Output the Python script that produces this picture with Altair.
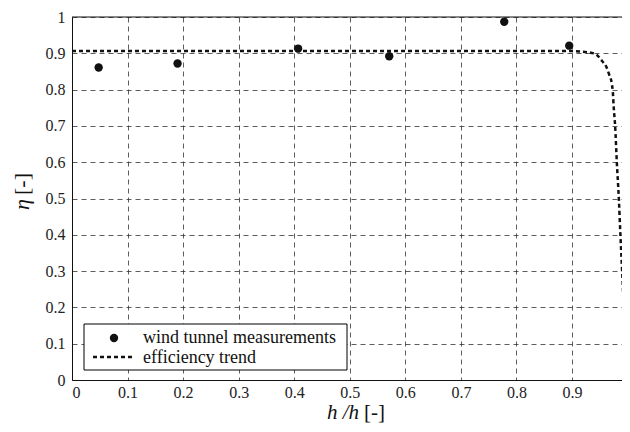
import altair as alt
import pandas as pd

# wind tunnel measurements
meas_x = [0.048, 0.190, 0.407, 0.571, 0.778, 0.895]
meas_y = [0.861, 0.872, 0.913, 0.892, 0.987, 0.921]

# efficiency trend
trend_x = [0.0, 0.3, 0.6, 0.9, 0.914, 0.941, 0.954, 0.962, 0.967, 0.9717,
           0.9735, 0.9753, 0.9776, 0.9807, 0.9843, 0.9871, 0.9902, 0.9932,
           0.9955, 0.9964, 0.999]
trend_y = [0.906, 0.906, 0.906, 0.906, 0.905, 0.899, 0.879, 0.862, 0.841, 0.816,
           0.793, 0.747, 0.701, 0.599, 0.500, 0.401, 0.301, 0.199,
           0.100, 0.062, 0.0]

x_ticks = [0, 0.1, 0.2, 0.3, 0.4, 0.5, 0.6, 0.7, 0.8, 0.9]
y_ticks = [0, 0.1, 0.2, 0.3, 0.4, 0.5, 0.6, 0.7, 0.8, 0.9, 1.0]
x_max = 0.99

legend_labels = ["wind tunnel measurements", "efficiency trend"]

SERIF = "Liberation Serif"

meas = pd.DataFrame({"x": meas_x, "y": meas_y})
trend = pd.DataFrame({"x": trend_x, "y": trend_y, "o": list(range(len(trend_x)))})

xs = alt.Scale(domain=[0, x_max], nice=False)
ys = alt.Scale(domain=[0, 1], nice=False)

x_axis = alt.Axis(values=x_ticks, format=".1~f", title=None, grid=True, ticks=False,
                  labelPadding=4)
y_axis = alt.Axis(values=y_ticks, format=".1~f", title=None, grid=True, ticks=False,
                  labelPadding=7)

line = alt.Chart(trend).mark_line(
    color="#111111", strokeWidth=2.5, strokeDash=[4, 3], interpolate="monotone", clip=True
).encode(
    x=alt.X("x:Q", scale=xs, axis=x_axis),
    y=alt.Y("y:Q", scale=ys, axis=y_axis),
    order="o:Q",
)

points = alt.Chart(meas).mark_circle(size=70, color="#111111", opacity=1).encode(
    x=alt.X("x:Q", scale=xs, axis=x_axis),
    y=alt.Y("y:Q", scale=ys, axis=y_axis),
)

one = alt.Data(values=[{"a": 1}])

top_border = alt.Chart(one).mark_rule(color="#111111", strokeWidth=1).encode(
    x=alt.value(0), x2=alt.value(560), y=alt.value(0)
)

leg_box = alt.Chart(one).mark_rect(fill="white", stroke="black", strokeWidth=1).encode(
    x=alt.value(12), x2=alt.value(275), y=alt.value(307), y2=alt.value(353)
)
leg_dot = alt.Chart(one).mark_circle(size=70, color="#111111", opacity=1).encode(
    x=alt.value(42), y=alt.value(321)
)
leg_line = alt.Chart(one).mark_rule(color="#111111", strokeWidth=2.5, strokeDash=[4, 3]).encode(
    x=alt.value(21), x2=alt.value(61), y=alt.value(340)
)
leg_t1 = alt.Chart(one).mark_text(font=SERIF, fontSize=18, align="left", baseline="alphabetic",
                                  color="#111111").encode(
    x=alt.value(71), y=alt.value(326), text=alt.value(legend_labels[0])
)
leg_t2 = alt.Chart(one).mark_text(font=SERIF, fontSize=18, align="left", baseline="alphabetic",
                                  color="#111111").encode(
    x=alt.value(71), y=alt.value(346), text=alt.value(legend_labels[1])
)

xt1 = alt.Chart(one).mark_text(font=SERIF, fontSize=21, fontStyle="italic", align="right",
                               baseline="alphabetic", color="#111111").encode(
    x=alt.value(287), y=alt.value(402), text=alt.value("h /h")
)
xt2 = alt.Chart(one).mark_text(font=SERIF, fontSize=21, align="left",
                               baseline="alphabetic", color="#111111").encode(
    x=alt.value(292), y=alt.value(402), text=alt.value("[-]")
)
yt1 = alt.Chart(one).mark_text(font=SERIF, fontSize=22, fontStyle="italic", align="right",
                               baseline="middle", angle=270, color="#111111").encode(
    x=alt.value(-50), y=alt.value(182), text=alt.value("η")
)
yt2 = alt.Chart(one).mark_text(font=SERIF, fontSize=22, align="left",
                               baseline="middle", angle=270, color="#111111").encode(
    x=alt.value(-50), y=alt.value(178), text=alt.value("[-]")
)

chart = alt.layer(
    line, points, top_border, leg_box, leg_dot, leg_line, leg_t1, leg_t2, xt1, xt2, yt1, yt2
).properties(
    width=550, height=363,
    autosize=alt.AutoSizeParams(type="none"),
    padding={"left": 64, "top": 9, "right": 0, "bottom": 44},
    background="white",
).configure_view(
    strokeOpacity=0
).configure_axis(
    labelFont=SERIF, labelFontSize=16, labelColor="#222222",
    domainColor="#111111", domainWidth=1,
    gridColor="#333333", gridDash=[5, 4], gridWidth=0.8, gridOpacity=1,
)

chart.save("out.html", embed_options={"renderer": "svg", "actions": False})
